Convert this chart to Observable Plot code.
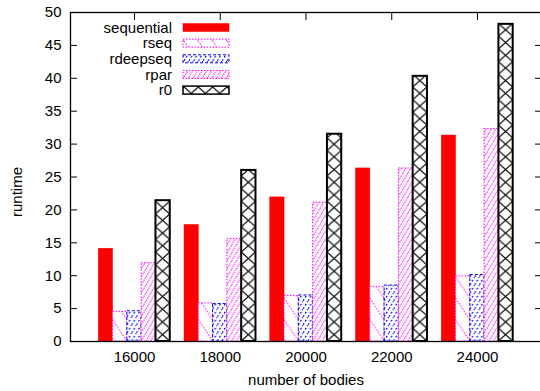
<!DOCTYPE html>
<html><head><meta charset="utf-8">
<script src="https://cdn.jsdelivr.net/npm/d3@7"></script>
<script src="https://cdn.jsdelivr.net/npm/@observablehq/plot@0.6"></script>
<style>
html,body{margin:0;padding:0;background:#fff;}
#chart{width:540px;height:391px;overflow:hidden;}
</style></head><body><div id="chart"></div>
<script>
// ---- data ----
const bodies = ["16000", "18000", "20000", "22000", "24000"];
const series = ["sequential", "rseq", "rdeepseq", "rpar", "r0"];
const sequential = [14.1, 17.7, 21.9, 26.3, 31.3];
const rseq       = [4.5, 5.8, 6.9, 8.3, 9.9];
const rdeepseq   = [4.6, 5.7, 7.0, 8.5, 10.1];
const rpar       = [11.9, 15.6, 21.1, 26.3, 32.3];
const r0         = [21.4, 26.0, 31.5, 40.3, 48.2];
const yTicks = [0, 5, 10, 15, 20, 25, 30, 35, 40, 45, 50];
const xLabel = "number of bodies";
const yLabel = "runtime";

const seriesValues = {sequential, rseq, rdeepseq, rpar, r0};
const rows = bodies.flatMap((b, i) => series.map(s => ({bodies: b, series: s, value: seriesValues[s][i]})));
const key = d => d.bodies + "|" + d.series;
// band domain: the five bars of each cluster, with one empty band between clusters
const xDomain = bodies.flatMap((b, i) => [...series.map(s => b + "|" + s), ...(i < bodies.length - 1 ? ["gap" + i] : [])]);
const xTicks = bodies.map(b => b + "|" + series[2]);

const styles = {
  sequential: {fill: "#ff0000", stroke: "#ff0000", strokeWidth: 0.5},
  rseq:       {fill: "url(#pat-rseq)", stroke: "#ff00ff", strokeWidth: 1, strokeDasharray: "1.5,1.5"},
  rdeepseq:   {fill: "url(#pat-rdeepseq)", stroke: "#0000ff", strokeWidth: 1, strokeDasharray: "3,2"},
  rpar:       {fill: "url(#pat-rpar)", stroke: "#ff00ff", strokeWidth: 1, strokeDasharray: "1.5,1.5"},
  r0:         {fill: "url(#pat-r0)", stroke: "#000000", strokeWidth: 2}
};

const FONT = "Liberation Sans, Arial, Helvetica, sans-serif";

const chart = Plot.plot({
  width: 541,
  height: 391,
  marginLeft: 70,
  marginRight: 0,
  marginTop: 12,
  marginBottom: 50,
  style: {fontFamily: FONT, fontSize: "15px", color: "#000", background: "#fff", maxWidth: "none"},
  x: {domain: xDomain, padding: 0, paddingOuter: 1.98, round: false, label: null, axis: null},
  y: {domain: [0, 50], label: null, axis: null},
  marks: [
    ...series.map(s => Plot.barY(rows.filter(r => r.series === s), {x: key, y: "value", ...styles[s]})),
    Plot.frame({stroke: "#000", strokeWidth: 1.3}),
    Plot.axisY({anchor: "left", ticks: yTicks, tickSize: 0, tickPadding: 9, label: null}),
    Plot.axisY({anchor: "left", ticks: yTicks, tickSize: 7, dx: 7, tickFormat: () => "", label: null}),
    Plot.axisY({anchor: "right", ticks: yTicks, tickSize: 7, dx: -7, tickFormat: () => "", label: null}),
    Plot.axisX({anchor: "bottom", ticks: xTicks, tickSize: 0, tickPadding: 10, tickFormat: d => d.split("|")[0], label: null}),
    Plot.axisX({anchor: "top", ticks: xTicks, tickSize: 7, dy: 7, tickFormat: () => "", label: null}),
    Plot.text([xLabel], {text: d => d, frameAnchor: "bottom", dy: 39, lineAnchor: "middle", textAnchor: "middle"}),
    Plot.text([yLabel], {text: d => d, frameAnchor: "left", dx: -53, dy: 15, rotate: -90, lineAnchor: "middle", textAnchor: "middle"})
  ]
});
document.getElementById("chart").appendChild(chart);

// ---- fill patterns (gnuplot-like) ----
const svg = d3.select(chart);
const defs = svg.insert("defs", ":first-child");
function barGeom(s) {
  const r = svg.select(`g[fill="${styles[s].fill}"] rect`);
  return {x: +r.attr("x"), w: +r.attr("width")};
}
const yBase = 341;
function makePattern(id, x, w, h, d, stroke, dash, sw) {
  const p = defs.append("pattern").attr("id", id).attr("patternUnits", "userSpaceOnUse")
    .attr("x", x).attr("y", yBase).attr("width", w).attr("height", h);
  p.append("rect").attr("width", w).attr("height", h).attr("fill", "#fff");
  p.append("path").attr("d", d).attr("fill", "none").attr("stroke", stroke)
    .attr("stroke-width", sw).attr("stroke-dasharray", dash);
}
{
  const g = barGeom("rseq"), w = g.w, h = g.w * 1.5;
  makePattern("pat-rseq", g.x, w, h, `M0,0L${w},${h}`, "#ff00ff", "1.5,1.5", 1);
}
{
  const g = barGeom("rdeepseq"), w = g.w / 3, h = 8;
  makePattern("pat-rdeepseq", g.x, w, h, `M0,${h}L${w},0`, "#0000ff", "2,2", 1.2);
}
{
  const g = barGeom("rpar"), w = g.w / 3, h = 8;
  makePattern("pat-rpar", g.x, w, h, `M0,${h}L${w},0`, "#ff00ff", "1.5,1", 1);
}
{
  const g = barGeom("r0"), w = g.w, h = 12.7;
  makePattern("pat-r0", g.x, w, h, `M0,0L${w},${h}M${w},0L0,${h}`, "#000", null, 1.2);
}

// ---- key (gnuplot style, inside plot, top-left) ----
const lg = svg.append("g").attr("font-family", FONT).attr("font-size", 15).attr("fill", "#000");
series.forEach((s, i) => {
  const cy = 27.5 + i * 15.65;
  lg.append("text").attr("x", 172).attr("y", cy).attr("dy", "0.35em").attr("text-anchor", "end").text(s);
  const st = styles[s];
  lg.append("rect").attr("x", 183).attr("y", cy - 4).attr("width", 46).attr("height", 8)
    .attr("fill", st.fill).attr("stroke", st.stroke)
    .attr("stroke-width", s === "r0" ? 1.5 : st.strokeWidth)
    .attr("stroke-dasharray", st.strokeDasharray || null);
});
</script>
</body></html>
